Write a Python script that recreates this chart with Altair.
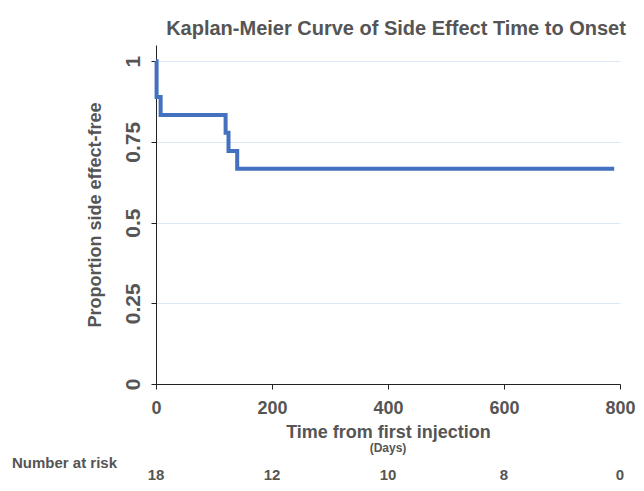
import altair as alt
import pandas as pd

# Kaplan-Meier step values
times = [0, 1, 8, 120, 125, 140, 790]
surv = [1.0, 0.889, 0.833, 0.778, 0.722, 0.667, 0.667]

risk_times = [0, 200, 400, 600, 800]
risk_counts = ["18", "12", "10", "8", "0"]

x_ticks = [0, 200, 400, 600, 800]
y_ticks = [0, 0.25, 0.5, 0.75, 1]

FONT = "Liberation Sans"
GREY = "#555555"
W, H = 464, 339

km = pd.DataFrame({"t": times, "s": surv})
risk = pd.DataFrame({"t": risk_times, "n": risk_counts})

x_scale = alt.Scale(domain=[0, 800], nice=False, zero=False)
y_scale = alt.Scale(domain=[0, 1.05], nice=False)

line = alt.Chart(km).mark_line(
    interpolate="step-after", color="#4470c0", strokeWidth=4, strokeCap="butt"
).encode(
    x=alt.X("t:Q", scale=x_scale, axis=alt.Axis(
        values=x_ticks, title="Time from first injection", grid=False,
        labelFontSize=18, labelFontWeight="bold", labelColor=GREY, labelPadding=10,
        titleFontSize=18, titleFontWeight="bold", titleColor=GREY, titlePadding=6,
        domainColor="#222222", tickColor="#222222", tickSize=5, labelFlush=False,
    )),
    y=alt.Y("s:Q", scale=y_scale, axis=alt.Axis(
        values=y_ticks, title="Proportion side effect-free", grid=True,
        gridColor="#dde6f6", gridWidth=1, format=".2~f",
        labelFontSize=21, labelFontWeight="bold", labelColor=GREY,
        labelAngle=270, labelAlign="center", labelBaseline="bottom", labelPadding=8,
        titleFontSize=18, titleFontWeight="bold", titleColor=GREY, titlePadding=18,
        domainColor="#222222", tickColor="#222222", tickSize=5, labelFlush=False,
    )),
)

days = alt.Chart(pd.DataFrame({"t": [400], "lab": ["(Days)"]})).mark_text(
    font=FONT, fontSize=12, fontWeight="bold", color=GREY, baseline="middle"
).encode(x=alt.X("t:Q", scale=x_scale), y=alt.value(H + 64), text="lab:N")

risk_lab = alt.Chart(pd.DataFrame({"lab": ["Number at risk"]})).mark_text(
    font=FONT, fontSize=15, fontWeight="bold", color=GREY, align="left", baseline="middle"
).encode(x=alt.value(-144), y=alt.value(H + 79), text="lab:N")

risk_nums = alt.Chart(risk).mark_text(
    font=FONT, fontSize=15, fontWeight="bold", color=GREY, baseline="alphabetic"
).encode(x=alt.X("t:Q", scale=x_scale), y=alt.value(H + 96), text="n:N")

chart = alt.layer(line, days, risk_lab, risk_nums).properties(
    width=W, height=H,
    autosize=alt.AutoSizeParams(type="none"),
    padding={"left": 148, "top": 37, "right": 16, "bottom": 98},
    title=alt.TitleParams(
        "Kaplan-Meier Curve of Side Effect Time to Onset",
        fontSize=20, fontWeight="bold", color=GREY, font=FONT, anchor="middle",
        offset=11, baseline="alphabetic", dx=8, dy=21,
    ),
).configure(font=FONT).configure_view(strokeWidth=0)

chart.save("out.html", embed_options={"renderer": "svg", "actions": False})
